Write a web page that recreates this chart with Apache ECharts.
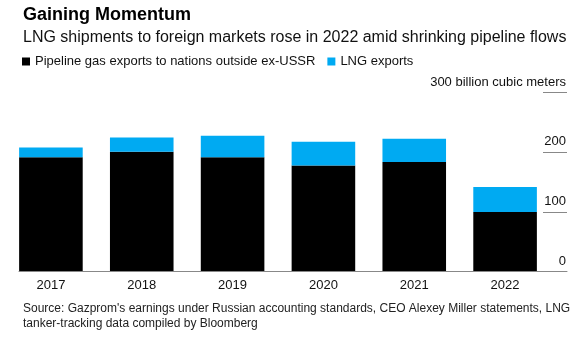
<!DOCTYPE html>
<html>
<head>
<meta charset="utf-8">
<script src="https://cdn.jsdelivr.net/npm/echarts@6/dist/echarts.min.js"></script>
<style>
html,body{margin:0;padding:0;background:#fff;}
#chart{width:586px;height:337px;}
</style>
</head>
<body>
<div id="chart"></div>
<script>
const categories = ['2017', '2018', '2019', '2020', '2021', '2022'];
const pipelineExports = [192, 201, 192, 178, 184, 100];
const lngExports = [16, 24, 36, 40, 39, 42];
const yTicks = [0, 100, 200, 300];
const yUnitLabel = '300 billion cubic meters';
const seriesNames = ['Pipeline gas exports to nations outside ex-USSR', 'LNG exports'];

const FONT = '"Liberation Sans", Arial, sans-serif';
const chart = echarts.init(document.getElementById('chart'), null, {renderer: 'canvas'});

const gridTop = 92.7, gridBottom = 65.3;

chart.setOption({
  animation: false,
  backgroundColor: '#fff',
  textStyle: {fontFamily: FONT},
  title: [
    {text: 'Gaining Momentum', left: 18, top: 1,
     textStyle: {fontFamily: FONT, fontSize: 18, fontWeight: 'bold', color: '#000'}},
    {text: 'LNG shipments to foreign markets rose in 2022 amid shrinking pipeline flows', left: 18, top: 25,
     textStyle: {fontFamily: FONT, fontSize: 16, fontWeight: 'normal', color: '#111'}},
    {text: "Source: Gazprom's earnings under Russian accounting standards, CEO Alexey Miller statements, LNG\ntanker-tracking data compiled by Bloomberg",
     left: 18, top: 296,
     textStyle: {fontFamily: FONT, fontSize: 12, fontWeight: 'normal', color: '#222', lineHeight: 15}}
  ],
  legend: {
    left: 17, top: 50,
    itemWidth: 8, itemHeight: 8, itemGap: 12,
    icon: 'rect',
    textStyle: {fontFamily: FONT, fontSize: 13, color: '#111'},
    data: seriesNames
  },
  grid: [
    {left: 5.5, right: 35.5, top: gridTop, bottom: gridBottom},
    {left: 19, right: 19, top: gridTop, bottom: gridBottom}
  ],
  xAxis: [
    {type: 'category', gridIndex: 0, data: categories,
     axisLine: {show: false}, axisTick: {show: false},
     axisLabel: {fontFamily: FONT, fontSize: 13, color: '#111', margin: 7}},
    {type: 'value', gridIndex: 1, min: 0, max: 1, z: 5,
     axisLine: {show: true, onZero: false, lineStyle: {color: '#888', width: 1}},
     axisTick: {show: false}, axisLabel: {show: false}, splitLine: {show: false}}
  ],
  yAxis: [
    {type: 'value', gridIndex: 0, min: yTicks[0], max: yTicks[yTicks.length - 1], interval: 100,
     show: false, splitLine: {show: false}},
    {type: 'value', gridIndex: 1, position: 'right', min: yTicks[0], max: yTicks[yTicks.length - 1], interval: 100,
     axisLine: {show: false, onZero: false},
     axisTick: {show: true, inside: true, length: 24, lineStyle: {color: '#888', width: 1}},
     splitLine: {show: false},
     axisLabel: {inside: true, margin: 1, verticalAlign: 'bottom', padding: [0, 0, 4, 0],
       fontFamily: FONT, fontSize: 13, color: '#111',
       formatter: v => v === 300 ? yUnitLabel : String(v)}}
  ],
  series: [
    {name: seriesNames[0], type: 'bar', stack: 'total', xAxisIndex: 0, yAxisIndex: 0,
     barCategoryGap: '30%', itemStyle: {color: '#000'}, data: pipelineExports},
    {name: seriesNames[1], type: 'bar', stack: 'total', xAxisIndex: 0, yAxisIndex: 0,
     barCategoryGap: '30%', itemStyle: {color: '#00aaf2'}, data: lngExports}
  ]
});
</script>
</body>
</html>
